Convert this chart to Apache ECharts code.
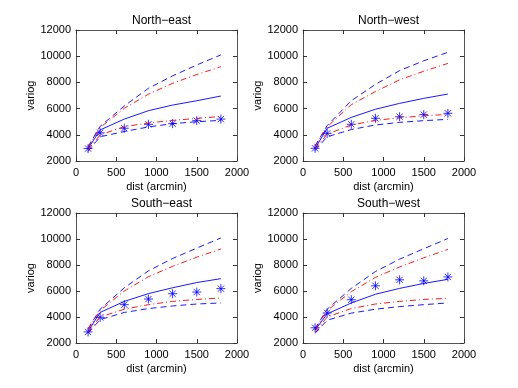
<!DOCTYPE html>
<html>
<head>
<meta charset="utf-8">
<script src="https://cdn.jsdelivr.net/npm/echarts@6/dist/echarts.min.js"></script>
<style>
  html, body { margin: 0; padding: 0; background: #fff; }
  #chart { width: 518px; height: 388px; }
</style>
</head>
<body>
<div id="chart"></div>
<script>
// lag distances (arcmin)
const distances = [150, 300, 600, 900, 1200, 1500, 1800];

// North-east
const neObs = [2950, 4150, 4500, 4800, 4850, 5080, 5200];
const neModel = [2950, 4370, 5200, 5840, 6270, 6600, 6960];
const neUpperBlue = [3100, 4650, 6200, 7550, 8500, 9330, 10100];
const neUpperRed = [3050, 4550, 6020, 7100, 7930, 8600, 9200];
const neLowerRed = [2850, 4000, 4620, 4900, 5100, 5250, 5400];
const neLowerBlue = [2750, 3850, 4250, 4600, 4850, 5000, 5100];

// North-west
const nwObs = [2970, 4110, 4800, 5260, 5380, 5540, 5640];
const nwModel = [2950, 4500, 5330, 5950, 6400, 6780, 7110];
const nwUpperBlue = [3150, 4700, 6600, 7850, 8900, 9650, 10300];
const nwUpperRed = [3100, 4600, 6300, 7300, 8200, 8850, 9450];
const nwLowerRed = [2900, 4050, 4750, 5100, 5300, 5450, 5560];
const nwLowerBlue = [2800, 3850, 4400, 4750, 4950, 5080, 5180];

// South-east
const seObs = [2850, 3970, 4950, 5380, 5790, 5920, 6180];
const seModel = [2900, 4350, 5200, 5800, 6250, 6650, 6950];
const seUpperBlue = [3100, 4600, 6250, 7550, 8500, 9300, 10080];
const seUpperRed = [3050, 4500, 6000, 7100, 7900, 8600, 9230];
const seLowerRed = [2850, 4000, 4600, 4950, 5200, 5350, 5460];
const seLowerBlue = [2750, 3800, 4350, 4650, 4850, 5000, 5080];

// South-west
const swObs = [3170, 4310, 5330, 6400, 6860, 6780, 7080];
const swModel = [3000, 4240, 5080, 5750, 6200, 6580, 6900];
const swUpperBlue = [3100, 4600, 6200, 7500, 8450, 9250, 10040];
const swUpperRed = [3050, 4500, 5950, 7050, 7850, 8550, 9200];
const swLowerRed = [2850, 4000, 4650, 5000, 5200, 5350, 5440];
const swLowerBlue = [2750, 3750, 4300, 4600, 4800, 4950, 5080];

const panels = [
  { title: "North\u2212east", obs: neObs, model: neModel, ub: neUpperBlue, ur: neUpperRed, lr: neLowerRed, lb: neLowerBlue },
  { title: "North\u2212west", obs: nwObs, model: nwModel, ub: nwUpperBlue, ur: nwUpperRed, lr: nwLowerRed, lb: nwLowerBlue },
  { title: "South\u2212east", obs: seObs, model: seModel, ub: seUpperBlue, ur: seUpperRed, lr: seLowerRed, lb: seLowerBlue },
  { title: "South\u2212west", obs: swObs, model: swModel, ub: swUpperBlue, ur: swUpperRed, lr: swLowerRed, lb: swLowerBlue },
];

const grids = [
  { left: 76, top: 30, width: 161, height: 131 },
  { left: 303, top: 30, width: 161, height: 131 },
  { left: 76, top: 213, width: 161, height: 130 },
  { left: 303, top: 213, width: 161, height: 130 },
];

const font = "'Liberation Sans', Arial, sans-serif";
const blue = "#0000ff";
const red = "#ff0000";
const asterisk = "path://M0 5L10 5M5 0L5 10M1.5 1.5L8.5 8.5M8.5 1.5L1.5 8.5";

const pairs = (ys) => distances.map((d, i) => [d, ys[i]]);
const plain = (v) => String(v);

const axisLine = { show: true, onZero: false, lineStyle: { color: "#555", width: 1 } };
const axisTick = { inside: true, length: 4, lineStyle: { color: "#333" } };
const labelStyle = { color: "#000", fontSize: 11, fontFamily: font };

const xAxes = [];
const yAxes = [];
const series = [];
const titles = [];

panels.forEach((p, i) => {
  const g = grids[i];
  titles.push({
    text: p.title,
    left: g.left + g.width / 2,
    top: g.top - 20,
    textAlign: "center",
    textStyle: { fontSize: 12, fontWeight: "normal", color: "#000", fontFamily: font },
  });
  xAxes.push({
    type: "value", gridIndex: i, position: "bottom", min: 0, max: 2000, interval: 500,
    name: "dist (arcmin)", nameLocation: "middle", nameGap: 20,
    nameTextStyle: labelStyle,
    axisLine, axisTick, axisLabel: Object.assign({ margin: 6, formatter: plain }, labelStyle),
    splitLine: { show: false },
  });
  xAxes.push({
    type: "value", gridIndex: i, position: "top", min: 0, max: 2000, interval: 500,
    axisLine, axisTick, axisLabel: { show: false }, splitLine: { show: false },
  });
  yAxes.push({
    type: "value", gridIndex: i, position: "left", min: 2000, max: 12000, interval: 2000,
    name: "variog", nameLocation: "middle", nameGap: 40,
    nameTextStyle: labelStyle,
    axisLine, axisTick, axisLabel: Object.assign({ margin: 5, formatter: plain }, labelStyle),
    splitLine: { show: false },
  });
  yAxes.push({
    type: "value", gridIndex: i, position: "right", min: 2000, max: 12000, interval: 2000,
    axisLine, axisTick, axisLabel: { show: false }, splitLine: { show: false },
  });

  const xi = i * 2;
  const yi = i * 2;
  const line = (ys, color, type) => ({
    type: "line", xAxisIndex: xi, yAxisIndex: yi, data: pairs(ys),
    symbol: "none", silent: true, animation: false,
    lineStyle: { color, width: 0.9, type },
  });
  series.push(line(p.ub, blue, [6, 4]));
  series.push(line(p.lb, blue, [6, 4]));
  series.push(line(p.ur, red, [6, 3, 1, 3]));
  series.push(line(p.lr, red, [6, 3, 1, 3]));
  series.push(line(p.model, blue, "solid"));
  series.push({
    type: "scatter", xAxisIndex: xi, yAxisIndex: yi, data: pairs(p.obs),
    symbol: asterisk, symbolSize: 9, animation: false,
    itemStyle: { color: "transparent", borderColor: blue, borderWidth: 1 },
  });
});

const chart = echarts.init(document.getElementById("chart"));
chart.setOption({
  backgroundColor: "#fff",
  animation: false,
  title: titles,
  grid: grids,
  xAxis: xAxes,
  yAxis: yAxes,
  series,
});
</script>
</body>
</html>
